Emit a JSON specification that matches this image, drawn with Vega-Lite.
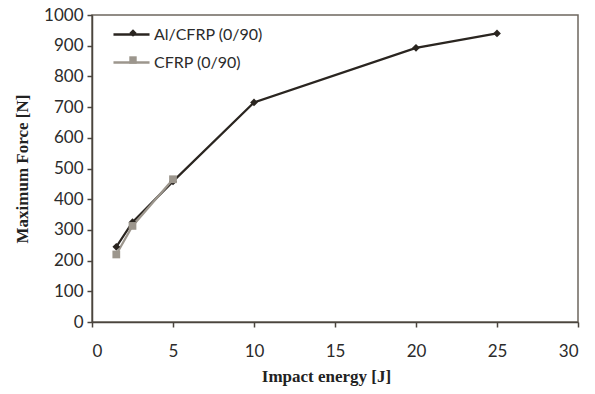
{
  "$schema": "https://vega.github.io/schema/vega-lite/v6.json",
  "width": 486,
  "height": 307,
  "autosize": {"type": "none"},
  "padding": {"left": 92, "top": 15, "right": 17, "bottom": 72},
  "background": "#ffffff",
  "config": {
    "view": {"stroke": "#6e675f", "strokeWidth": 1.5},
    "axis": {
      "labelFont": "Lato", "labelFontSize": 17, "labelColor": "#2b2b2b",
      "titleFont": "Liberation Serif", "titleFontSize": 17, "titleFontWeight": "bold", "titleColor": "#222222",
      "domainColor": "#4a443e", "domainWidth": 1.5, "tickColor": "#4a443e", "tickWidth": 1.5,
      "grid": false
    },
    "legend": {"labelFont": "Lato", "labelFontSize": 16, "labelColor": "#2b2b2b"}
  },
  "data": {"values": [
    {"series": "Al/CFRP (0/90)", "marker": "Al/CFRP", "energy": 1.5, "force": 245},
    {"series": "Al/CFRP (0/90)", "marker": "Al/CFRP", "energy": 2.5, "force": 325},
    {"series": "Al/CFRP (0/90)", "marker": "Al/CFRP", "energy": 5, "force": 458},
    {"series": "Al/CFRP (0/90)", "marker": "Al/CFRP", "energy": 10, "force": 715},
    {"series": "Al/CFRP (0/90)", "marker": "Al/CFRP", "energy": 20, "force": 893},
    {"series": "Al/CFRP (0/90)", "marker": "Al/CFRP", "energy": 25, "force": 940},
    {"series": "CFRP (0/90)", "marker": "CFRP", "energy": 1.5, "force": 220},
    {"series": "CFRP (0/90)", "marker": "CFRP", "energy": 2.5, "force": 313},
    {"series": "CFRP (0/90)", "marker": "CFRP", "energy": 5, "force": 465}
  ]},
  "encoding": {
    "x": {"field": "energy", "type": "quantitative", "title": "Impact energy [J]",
      "scale": {"domain": [0, 30], "nice": false},
      "axis": {"values": [0, 5, 10, 15, 20, 25, 30], "tickSize": 5, "labelPadding": 16, "titlePadding": 9, "titleX": 234}},
    "y": {"field": "force", "type": "quantitative", "title": "Maximum Force [N]",
      "scale": {"domain": [0, 1000], "nice": false},
      "axis": {"values": [0, 100, 200, 300, 400, 500, 600, 700, 800, 900, 1000], "format": "d", "tickSize": 5, "labelPadding": 4, "titlePadding": 12}},
    "order": {"field": "energy", "type": "quantitative"}
  },
  "layer": [
    {
      "mark": {"type": "line", "strokeWidth": 2.2},
      "encoding": {
        "color": {"field": "series", "type": "nominal",
          "scale": {"domain": ["Al/CFRP (0/90)", "CFRP (0/90)"], "range": ["#2a2520", "#9c968d"]},
          "legend": {"title": null, "orient": "none", "legendX": 20, "legendY": 0, "symbolType": "stroke", "symbolSize": 1300, "symbolStrokeWidth": 2.5, "rowPadding": -8, "labelOffset": 3}
        }
      }
    },
    {
      "mark": {"type": "point", "filled": true, "opacity": 1, "size": 60, "strokeWidth": 0},
      "encoding": {
        "fill": {"field": "marker", "type": "nominal",
          "scale": {"domain": ["Al/CFRP", "CFRP"], "range": ["#2a2520", "#9c968d"]},
          "legend": {"title": null, "orient": "none", "legendX": 21, "legendY": 10, "symbolSize": 55, "symbolStrokeWidth": 0, "labelExpr": "''", "rowPadding": 11, "symbolOffset": 12}},
        "shape": {"field": "marker", "type": "nominal",
          "scale": {"domain": ["Al/CFRP", "CFRP"], "range": ["diamond", "square"]},
          "legend": {"title": null, "orient": "none", "legendX": 21, "legendY": 10, "symbolSize": 55, "symbolStrokeWidth": 0, "labelExpr": "''", "rowPadding": 11, "symbolOffset": 12}
        }
      }
    }
  ]
}
